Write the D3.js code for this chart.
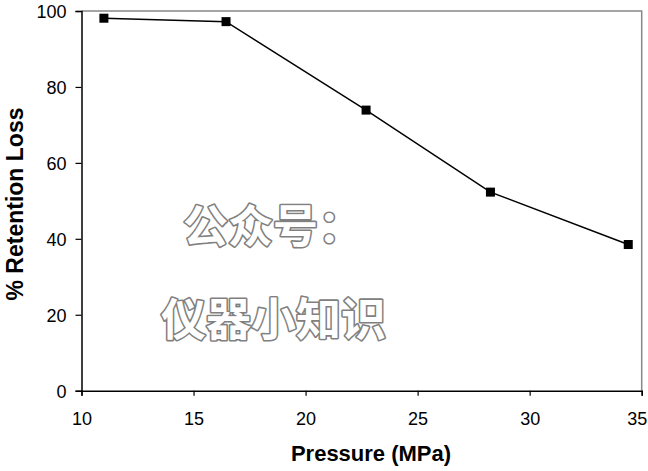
<!DOCTYPE html>
<html>
<head>
<meta charset="utf-8">
<script src="https://cdn.jsdelivr.net/npm/d3@7"></script>
<style>
  body { margin: 0; background: #fff; }
  text { font-family: "Liberation Sans", Arial, sans-serif; }
</style>
</head>
<body>
<div id="chart"></div>
<script>
var pressure = [11.0, 16.45, 22.7, 28.25, 34.4];
var retentionLoss = [98.1, 97.2, 73.9, 52.3, 38.5];
var xTicks = [10, 15, 20, 25, 30, 35];
var yTicks = [0, 20, 40, 60, 80, 100];

var width = 648;
var height = 471;
var margin = {left: 81.5, right: 6.3, top: 11, bottom: 80.3};

var svg = d3.select("#chart")
  .append("svg")
    .attr("width", width)
    .attr("height", height);

var x = d3.scaleLinear()
    .domain([10, 35])
    .range([margin.left, width - margin.right]);

var y = d3.scaleLinear()
    .domain([0, 100])
    .range([height - margin.bottom, margin.top]);

// frame: gray top/right
svg.append("path")
    .attr("d", "M" + x(10) + "," + y(100) + "H" + x(35) + "V" + y(0))
    .attr("fill", "none")
    .attr("stroke", "#888")
    .attr("stroke-width", 1.5);

// axes
var xAxis = svg.append("g")
    .attr("transform", "translate(0," + y(0) + ")")
    .call(d3.axisBottom(x).tickValues(xTicks).tickSize(5).tickPadding(17).tickFormat(d3.format("d")));

var yAxis = svg.append("g")
    .attr("transform", "translate(" + x(10) + ",0)")
    .call(d3.axisLeft(y).tickValues(yTicks).tickSize(6).tickPadding(9).tickFormat(d3.format("d")));

[xAxis, yAxis].forEach(function(a){
    a.select(".domain").attr("stroke", "#000").attr("stroke-width", 1.5);
    a.selectAll(".tick line").attr("stroke", "#000").attr("stroke-width", 1.2);
    a.selectAll(".tick text")
        .attr("fill", "#000")
        .style("font-size", "18px")
        .style("font-family", "'Liberation Sans', Arial, sans-serif");
});
yAxis.selectAll(".tick text").attr("dy", "0.36em");
// last label sits against the right edge
xAxis.selectAll(".tick text").filter(function(d){ return d === 35; }).attr("x", -5);

// watermark
var wm = svg.append("g").attr("class", "watermark");
wm.append("text")
    .attr("x", 183).attr("y", 243)
    .text("公众号：");
wm.append("text")
    .attr("x", 161).attr("y", 336)
    .text("仪器小知识");
wm.selectAll("text")
    .style("font-family", "'Noto Sans CJK SC', sans-serif")
    .style("font-size", "45px")
    .style("font-weight", "bold")
    .attr("fill", "#fff")
    .attr("stroke", "#808080")
    .attr("stroke-width", 3.2)
    .attr("stroke-linejoin", "round")
    .attr("paint-order", "stroke");

// line
var line = d3.line()
    .x(function(d, i){ return x(pressure[i]); })
    .y(function(d){ return y(d); });

svg.append("path")
    .datum(retentionLoss)
    .attr("d", line)
    .attr("fill", "none")
    .attr("stroke", "#000")
    .attr("stroke-width", 1.5);

svg.selectAll(".marker")
    .data(retentionLoss)
  .enter().append("rect")
    .attr("class", "marker")
    .attr("x", function(d, i){ return x(pressure[i]) - 4.5; })
    .attr("y", function(d){ return y(d) - 4.5; })
    .attr("width", 9)
    .attr("height", 9)
    .attr("fill", "#000");

// axis titles
svg.append("text")
    .attr("x", 371)
    .attr("y", 461)
    .attr("text-anchor", "middle")
    .style("font-size", "22px")
    .style("font-weight", "bold")
    .text("Pressure (MPa)");

svg.append("text")
    .attr("transform", "translate(23,204) rotate(-90)")
    .attr("text-anchor", "middle")
    .style("font-size", "23px")
    .style("font-weight", "bold")
    .text("% Retention Loss");
</script>
</body>
</html>
